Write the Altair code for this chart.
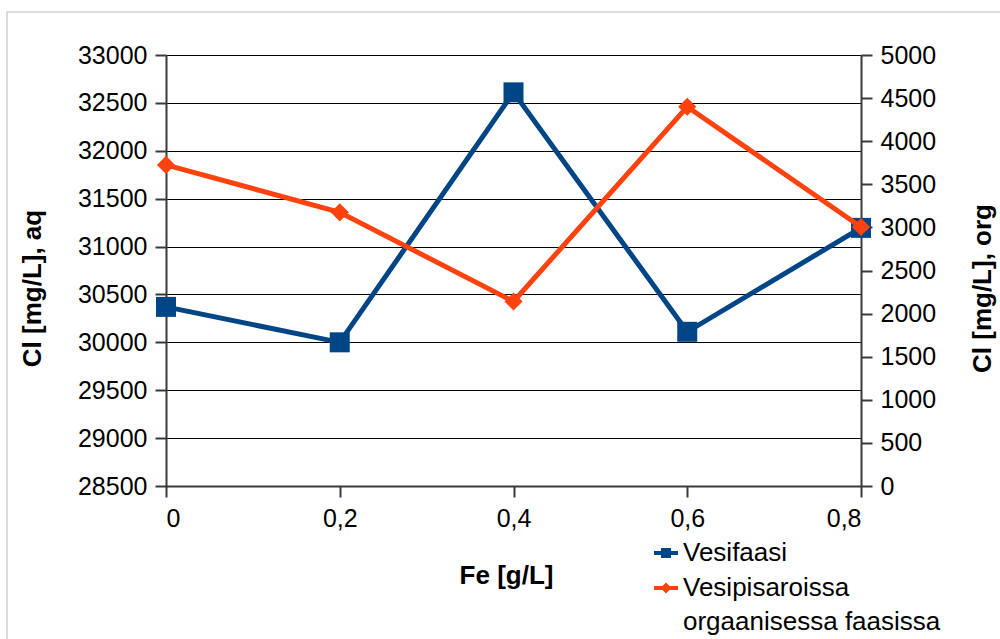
import altair as alt
import pandas as pd

# Fe dose [g/L]
fe = [0.0, 0.2, 0.4, 0.6, 0.8]
# Cl in aqueous phase [mg/L] (left axis)
cl_aq = [30370, 30000, 32610, 30110, 31195]
# Cl in water droplets of organic phase [mg/L] (right axis)
cl_org = [3725, 3175, 2140, 4400, 3005]

series_names = ["Vesifaasi", "Vesipisaroissa orgaanisessa faasissa"]
series_colors = ["#004586", "#ff420e"]

df = pd.DataFrame(
    {"fe": fe * 2,
     "cl": cl_aq + cl_org,
     "series": [series_names[0]] * len(fe) + [series_names[1]] * len(fe)}
)

FONT = "Liberation Sans"
W, H = 695, 431

# legend symbols: a short line with the series marker on it
SYM_SQUARE = "M-1,-0.16H1V0.16H-1Z M-0.42,-0.42H0.42V0.42H-0.42Z"
SYM_DIAMOND = "M-1,-0.16H1V0.16H-1Z M0,-0.46L0.46,0L0,0.46L-0.46,0Z"

x_enc = alt.X(
    "fe:Q",
    scale=alt.Scale(domain=[0, 0.8], nice=False),
    axis=alt.Axis(
        values=fe,
        labelExpr="datum.value == 0 ? '0' : replace(format(datum.value, '.1f'), '.', ',')",
        title="Fe [g/L]",
        titleX=340,
        grid=False,
        tickSize=11,
        labelPadding=9,
        titlePadding=31,
    ),
)

y_left = alt.Y(
    "cl:Q",
    scale=alt.Scale(domain=[28500, 33000], nice=False, zero=False),
    axis=alt.Axis(
        values=list(range(28500, 33001, 500)),
        format="d",
        title="Cl [mg/L], aq",
        titleY=233,
        orient="left",
        grid=True,
        tickSize=11,
        labelPadding=8,
        titlePadding=32,
    ),
)
y_right = alt.Y(
    "cl:Q",
    scale=alt.Scale(domain=[0, 5000], nice=False),
    axis=alt.Axis(
        values=list(range(0, 5001, 500)),
        format="d",
        title="Cl [mg/L], org",
        titleY=233,
        orient="right",
        grid=False,
        tickSize=11,
        labelPadding=8,
        titlePadding=60,
        titleAngle=270,
    ),
)


def color_for(i, legend_y, symbol):
    return alt.Color(
        "series:N",
        scale=alt.Scale(domain=[series_names[i]], range=[series_colors[i]]),
        legend=alt.Legend(
            title=None,
            orient="none",
            legendX=487,
            legendY=legend_y,
            symbolType=symbol,
            symbolSize=576,
            symbolFillColor=series_colors[i],
            symbolStrokeWidth=0,
            labelExpr="datum.label == 'Vesipisaroissa orgaanisessa faasissa' ? "
                      "['Vesipisaroissa', 'orgaanisessa faasissa'] : datum.label",
        ),
    )


aq = alt.Chart(df).transform_filter(alt.datum.series == series_names[0])
org = alt.Chart(df).transform_filter(alt.datum.series == series_names[1])

c_aq = color_for(0, 485, SYM_SQUARE)
c_org = color_for(1, 520, SYM_DIAMOND)

left = alt.layer(
    aq.mark_line(strokeWidth=5).encode(x=x_enc, y=y_left, color=c_aq),
    aq.mark_point(filled=True, opacity=1, size=400, shape="square").encode(
        x=x_enc, y=y_left, color=c_aq),
)
right = alt.layer(
    org.mark_line(strokeWidth=5).encode(x=x_enc, y=y_right, color=c_org),
    org.mark_point(filled=True, opacity=1, size=330, shape="diamond").encode(
        x=x_enc, y=y_right, color=c_org),
)

# outer frame of the chart area
frame = alt.Chart(pd.DataFrame({"k": [0]})).mark_rect(
    fill=None, stroke="#cfcfcf", strokeWidth=1.5
).encode(
    x=alt.value(-159), x2=alt.value(W + 200),
    y=alt.value(-43), y2=alt.value(H + 200),
)

chart = (
    alt.layer(frame, left, right)
    .resolve_scale(y="independent", color="independent")
    .properties(
        width=W,
        height=H,
        autosize=alt.AutoSizeParams(type="none"),
        padding={"left": 166, "top": 55, "right": 1000 - 166 - W, "bottom": 639 - 55 - H},
        background="white",
    )
    .configure(style={"guide-label": {"lineHeight": 34}})
    .configure_view(stroke=None)
    .configure_axis(
        labelFont=FONT,
        labelFontSize=25,
        labelColor="#000000",
        titleFont=FONT,
        titleFontSize=26,
        titleFontWeight="bold",
        titleColor="#000000",
        domainColor="#3a3a3a",
        domainWidth=2,
        tickColor="#3a3a3a",
        tickWidth=2,
        gridColor="#000000",
        gridWidth=1.2,
        gridOpacity=1,
    )
    .configure_legend(
        labelFont=FONT,
        labelFontSize=26,
        labelColor="#000000",
        labelLimit=0,
        labelOffset=4,
    )
)

chart.save("out.html", embed_options={"renderer": "svg", "actions": False})
